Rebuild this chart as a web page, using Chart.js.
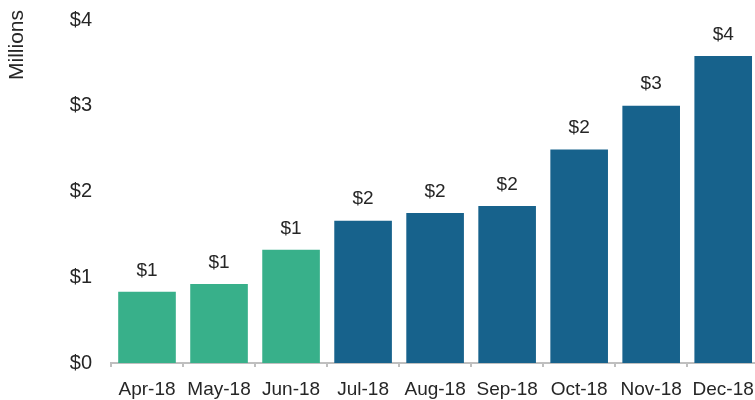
<!DOCTYPE html>
<html>
<head>
<meta charset="utf-8">
<script src="https://cdn.jsdelivr.net/npm/chart.js@4"></script>
<style>
  html, body { margin: 0; padding: 0; background: #fff; overflow: hidden; }
</style>
</head>
<body>
<canvas id="revenue_chart" width="765" height="400"></canvas>
<script>
// 월별 값 (단위: 백만 달러)
const months = ['Apr-18', 'May-18', 'Jun-18', 'Jul-18', 'Aug-18', 'Sep-18', 'Oct-18', 'Nov-18', 'Dec-18'];
const values = [0.83, 0.92, 1.32, 1.66, 1.75, 1.83, 2.49, 3.00, 3.58];
const barColors = ['#38b08a', '#38b08a', '#38b08a', '#17628c', '#17628c', '#17628c', '#17628c', '#17628c', '#17628c'];
const yTicks = [0, 1, 2, 3, 4];
const yTitle = 'Millions';

const font = 'Liberation Sans, Arial, sans-serif';
const textColor = '#262626';

// 막대 위 값 표시
const valueLabels = {
	id: 'valueLabels',
	afterDatasetsDraw(chart) {
		const ctx = chart.ctx;
		const meta = chart.getDatasetMeta(0);
		ctx.save();
		ctx.font = '19px ' + font;
		ctx.fillStyle = textColor;
		ctx.textAlign = 'center';
		ctx.textBaseline = 'bottom';
		meta.data.forEach(function(bar, i) {
			ctx.fillText('$' + Math.round(values[i]), bar.x, bar.y - 12);
		});
		ctx.restore();
	}
};

// 세로 축 제목 (왼쪽 위)
const axisTitle = {
	id: 'axisTitle',
	afterDraw(chart) {
		const ctx = chart.ctx;
		ctx.save();
		ctx.translate(17, 10);
		ctx.rotate(-Math.PI / 2);
		ctx.font = '21px ' + font;
		ctx.fillStyle = textColor;
		ctx.textAlign = 'right';
		ctx.textBaseline = 'middle';
		ctx.fillText(yTitle, 0, 0);
		ctx.restore();
	}
};

const context = document.getElementById('revenue_chart').getContext('2d');
const revenue_chart = new Chart(context, {
	type: 'bar',
	data: {
		labels: months,
		datasets: [{
			data: values,
			backgroundColor: barColors,
			barPercentage: 0.8,
			categoryPercentage: 1.0
		}]
	},
	options: {
		responsive: false,
		animation: false,
		layout: { padding: { top: 20, right: 3, left: 0, bottom: 0 } },
		plugins: {
			legend: { display: false },
			tooltip: { enabled: false }
		},
		scales: {
			x: {
				grid: {
					display: true,
					drawOnChartArea: false,
					drawTicks: true,
					tickLength: 4,
					color: '#bfbfbf',
					lineWidth: 2
				},
				border: { display: true, color: '#bfbfbf', width: 2 },
				ticks: {
					color: textColor,
					font: { family: font, size: 19 },
					padding: 11,
					maxRotation: 0,
					autoSkip: false
				},
				afterFit(scale) { scale.height = 37; }
			},
			y: {
				min: 0,
				max: 4,
				afterBuildTicks(scale) { scale.ticks = yTicks.map(v => ({ value: v })); },
				grid: { display: false, drawTicks: true, tickLength: 19 },
				border: { display: false },
				ticks: {
					color: textColor,
					font: { family: font, size: 20 },
					padding: 0,
					callback: v => '$' + v
				},
				afterFit(scale) { scale.width = 111; }
			}
		}
	},
	plugins: [valueLabels, axisTitle]
});
</script>
</body>
</html>
